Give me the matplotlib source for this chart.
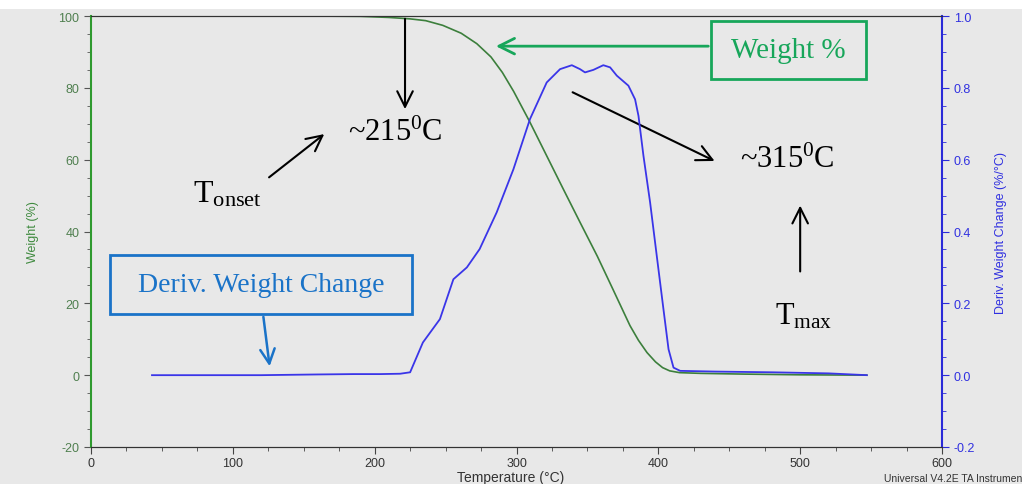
import matplotlib
matplotlib.use("Agg")
import matplotlib.pyplot as plt
from matplotlib.patches import Rectangle
from matplotlib.ticker import MultipleLocator

plt.rcParams["mathtext.fontset"] = "custom"
plt.rcParams["mathtext.rm"] = "Liberation Serif"
plt.rcParams["mathtext.it"] = "Liberation Serif:italic"
plt.rcParams["font.family"] = ["Liberation Sans", "DejaVu Sans"]

# Weight loss curve (%)
weight_temp = [40, 100, 150, 190, 210, 225, 236, 248, 261, 272, 282, 290, 298, 309, 321,
               333, 345, 357, 368, 380, 386, 392, 398, 403, 408, 415, 430, 460, 500, 547]
weight_pct = [100, 100, 100, 99.9, 99.6, 99.2, 98.7, 97.4, 95.2, 92.3, 88.6, 84.3, 79.0,
              70.8, 61.3, 51.8, 42.4, 33.1, 23.9, 13.8, 9.7, 6.3, 3.7, 2.1, 1.2, 0.7,
              0.5, 0.3, 0.1, 0.0]

# Derivative weight change (%/°C)
deriv_temp = [43, 80, 120, 160, 185, 204, 218, 225, 234, 246, 255.5, 265, 274, 286,
              297.8, 309.5, 321.3, 330.7, 339, 344.8, 348.3, 354.2, 361.2, 366, 370.7,
              378.9, 383.6, 386, 389.5, 394.2, 398.9, 403.6, 407.2, 410.7, 415.4, 440,
              480, 520, 547]
deriv_val = [0.0, 0.0, 0.0, 0.002, 0.003, 0.003, 0.004, 0.008, 0.091, 0.156, 0.267, 0.30,
             0.351, 0.453, 0.573, 0.713, 0.815, 0.852, 0.863, 0.852, 0.843, 0.85, 0.863,
             0.857, 0.834, 0.806, 0.768, 0.722, 0.611, 0.481, 0.332, 0.184, 0.072, 0.021,
             0.012, 0.01, 0.008, 0.005, 0.0]

x_ticks = [0, 100, 200, 300, 400, 500, 600]
left_ticks = [-20, 0, 20, 40, 60, 80, 100]
right_ticks = [-0.2, 0.0, 0.2, 0.4, 0.6, 0.8, 1.0]

green_curve = "#3c7f3c"
blue_curve = "#3a35e8"
green_axis = "#2f9a2f"
blue_axis = "#2a2ad8"
note_green = "#17a65a"
note_blue = "#1a73c8"
bg = "#e8e8e8"

fig = plt.figure(figsize=(10.22, 4.85), dpi=100, facecolor=bg)
fig.patches.append(Rectangle((0, 1 - 10 / 485), 1, 10 / 485, transform=fig.transFigure,
                             facecolor="white", edgecolor="none", zorder=-1))
ax = fig.add_axes([91 / 1022, 1 - 448 / 485, (942 - 91) / 1022, (448 - 17) / 485])
ax.set_facecolor(bg)
ax2 = ax.twinx()

ax.plot(weight_temp, weight_pct, color=green_curve, lw=1.2, zorder=3)
ax2.plot(deriv_temp, deriv_val, color=blue_curve, lw=1.3, zorder=3)

ax.set_xlim(0, 600)
ax.set_ylim(-20, 100)
ax2.set_ylim(-0.2, 1.0)
ax.set_xticks(x_ticks)
ax.set_yticks(left_ticks)
ax2.set_yticks(right_ticks)
ax.set_yticklabels([str(v) for v in left_ticks])
ax2.set_yticklabels([f"{v:.1f}" for v in right_ticks])
ax.xaxis.set_minor_locator(MultipleLocator(25))
ax.yaxis.set_minor_locator(MultipleLocator(5))
ax2.yaxis.set_minor_locator(MultipleLocator(0.05))

for s in ("top", "bottom"):
    ax.spines[s].set_color("#333333")
    ax2.spines[s].set_color("#333333")
ax2.spines["left"].set_visible(False)
ax.spines["left"].set_color(green_axis)
ax.spines["left"].set_linewidth(1.5)
ax2.spines["right"].set_color(blue_axis)
ax2.spines["right"].set_linewidth(1.5)
ax.spines["right"].set_visible(False)

ax.tick_params(axis="x", which="major", length=5, colors="#444444", labelsize=9,
               labelcolor="#333333", pad=2)
ax.tick_params(axis="x", which="minor", length=3, colors="#444444")
ax.tick_params(axis="y", which="major", length=5, colors="#555555", labelsize=9,
               labelcolor="#4f7f4f")
ax.tick_params(axis="y", which="minor", length=3, colors="#555555")
ax2.tick_params(axis="y", which="major", length=5, colors=blue_axis, labelsize=9,
                labelcolor="#3030e0")
ax2.tick_params(axis="y", which="minor", length=3, colors=blue_axis)

ax.set_ylabel("Weight (%)", color="#3f8a3f", fontsize=9, labelpad=14)
ax2.set_ylabel("Deriv. Weight Change (%/°C)", color="#2e2ee0", fontsize=9, labelpad=14)
fig.text(0.5, 0.0, "Temperature (°C)", ha="center", va="bottom", fontsize=10,
         color="#333333")
fig.text(1.0, 0.003, "Universal V4.2E TA Instrumen", ha="right", va="bottom",
         fontsize=7.5, color="#333333")

serif = "Liberation Serif"
black_arrow = dict(arrowstyle="->", color="black", lw=1.5, mutation_scale=28)

# Onset annotation
ax.annotate("", xy=(221.4, 73.3), xytext=(221.4, 100), arrowprops=black_arrow, zorder=5)
ax.text(214.4, 67.6, r"~215$^{\mathrm{0}}$C", fontsize=22, family=serif,
        ha="center", va="center", zorder=5)
ax.annotate("", xy=(166, 67.6), xytext=(124, 54.6), arrowprops=black_arrow, zorder=5)
ax.text(72, 50.5, r"T$_{\mathrm{onset}}$", fontsize=23, family=serif,
        ha="left", va="center", zorder=5)

# Maximum rate annotation
ax.annotate("", xy=(441.4, 59.3), xytext=(337.8, 79.1), arrowprops=black_arrow, zorder=5)
ax.text(490.8, 60.1, r"~315$^{\mathrm{0}}$C", fontsize=22, family=serif,
        ha="center", va="center", zorder=5)
ax.annotate("", xy=(500, 48.0), xytext=(500, 28.1), arrowprops=black_arrow, zorder=5)
ax.text(482, 16.5, r"T$_{\mathrm{max}}$", fontsize=22, family=serif,
        ha="left", va="center", zorder=5)

# Curve labels in framed boxes
ax.add_patch(Rectangle((437.2, 82.5), 109.3, 16.1, facecolor="none",
                       edgecolor=note_green, lw=2, zorder=6))
ax.text(491.8, 90.6, "Weight %", fontsize=21, family=serif, color=note_green,
        ha="center", va="center", zorder=6)
ax.annotate("", xy=(283.5, 91.6), xytext=(437.2, 91.6),
            arrowprops=dict(arrowstyle="->", color=note_green, lw=2, mutation_scale=28),
            zorder=5)
ax.add_patch(Rectangle((13.4, 17.0), 212.9, 16.4, facecolor="none",
                       edgecolor=note_blue, lw=2, zorder=6))
ax.text(119.9, 25.2, "Deriv. Weight Change", fontsize=20, family=serif, color=note_blue,
        ha="center", va="center", zorder=6)
ax.annotate("", xy=(126.2, 1.7), xytext=(121.3, 17.0),
            arrowprops=dict(arrowstyle="->", color=note_blue, lw=1.8, mutation_scale=26),
            zorder=5)

fig.savefig("out.png", dpi=100, facecolor=fig.get_facecolor())
